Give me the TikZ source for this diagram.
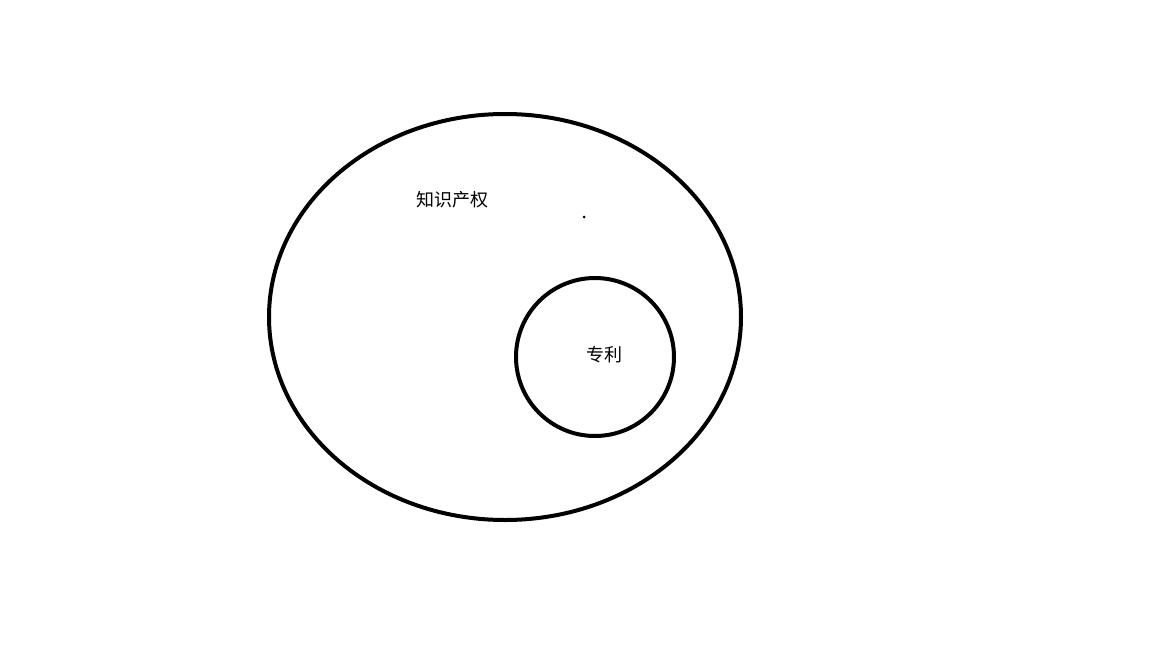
\documentclass[tikz,border=0pt]{standalone}
\usepackage{fontspec}
\usetikzlibrary{shapes.geometric}
\newfontfamily\cjk{Noto Sans CJK SC}
\tikzset{ring/.style={draw=black, line width=4pt, fill=none},
  lbl/.style={font=\cjk\fontsize{18}{21}\selectfont, text=black, inner sep=0pt}}
\begin{document}
\begin{tikzpicture}[x=1pt,y=-1pt]
\useasboundingbox (0,0) rectangle (1152,648);
\node[ring, ellipse, minimum width=472pt, minimum height=406pt, inner sep=0pt] (ip) at (505,317) {};
\node[ring, circle, minimum size=158pt, inner sep=0pt] (pat) at (595,357) {};
\node[lbl] (iplbl) at (452.5,200) {知识产权};
\node[lbl] (patlbl) at (604.5,355) {专利};
\fill[black] (584,217) circle (1.5pt);
\end{tikzpicture}
\end{document}
